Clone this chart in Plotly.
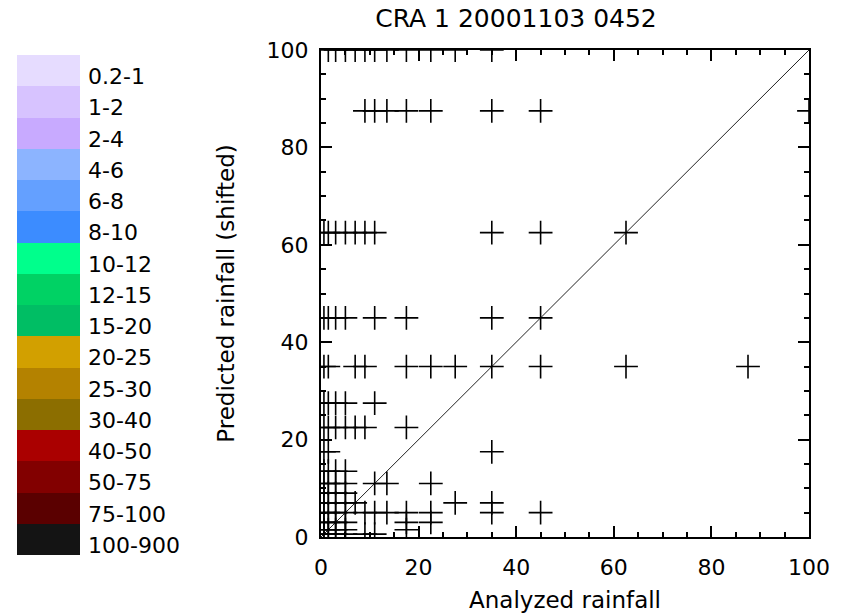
import plotly.graph_objects as go

# ---------------- data ----------------
title_text = "CRA 1 20001103 0452"
x_title = "Analyzed rainfall"
y_title = "Predicted rainfall (shifted)"

# Legend categories (rain-rate classes) and their colours
legend_labels = ["0.2-1", "1-2", "2-4", "4-6", "6-8", "8-10", "10-12", "12-15",
                 "15-20", "20-25", "25-30", "30-40", "40-50", "50-75", "75-100", "100-900"]
legend_colors = ["#E6DCFF", "#D7C3FF", "#C8AAFF", "#8CB4FF", "#64A0FF", "#3C8CFF",
                 "#00FF8C", "#00D264", "#00BE64", "#D2A000", "#B48200", "#8C6E00",
                 "#AA0000", "#820000", "#5A0000", "#141414"]

# Predicted values (rows) and the analyzed values found on each row
pred_levels = [100, 87.5, 62.5, 45, 35, 27.5, 22.5, 17.5, 13.5, 11, 9, 7, 5, 3, 1.5, 0.6]
anal_by_level = [
    [1.5, 3, 5, 7, 9, 11, 13.5, 17.5, 22.5, 27.5, 35],
    [9, 11, 13.5, 17.5, 22.5, 35, 45, 100],
    [0.6, 1.5, 3, 5, 7, 9, 11, 35, 45, 62.5],
    [0.6, 1.5, 3, 5, 11, 17.5, 35, 45],
    [0.6, 1.5, 7, 9, 17.5, 22.5, 27.5, 35, 45, 62.5, 87.5],
    [0.6, 1.5, 3, 5, 11],
    [0.6, 1.5, 3, 5, 7, 9, 17.5],
    [0.6, 1.5, 35],
    [0.6, 1.5, 3, 5],
    [0.6, 1.5, 3, 5, 11, 13.5, 22.5],
    [0.6, 1.5, 3, 5],
    [0.6, 1.5, 3, 5, 7, 27.5, 35],
    [0.6, 1.5, 3, 5, 9, 11, 13.5, 17.5, 22.5, 35, 45],
    [0.6, 1.5, 3, 5, 17.5, 22.5],
    [0.6, 1.5, 3, 5, 17.5],
    [0.6, 1.5, 3, 5, 9, 11],
]
diag = [0, 100]
axis_ticks = [0, 20, 40, 60, 80, 100]

# ---------------- figure ----------------
xs, ys = [], []
for lvl, row in zip(pred_levels, anal_by_level):
    for v in row:
        xs.append(v)
        ys.append(lvl)

W, H = 851, 615
ml, mr, mt, mb = 0, 42, 50, 60
pw, ph = W - ml - mr, H - mt - mb

FONT = "DejaVu Sans ExtraLight, DejaVu Sans"
fig = go.Figure()

fig.add_trace(go.Scatter(x=diag, y=diag, mode="lines",
                         line=dict(color="#222222", width=1),
                         hoverinfo="skip", showlegend=False))
fig.add_trace(go.Scatter(x=xs, y=ys, mode="markers",
                         marker=dict(symbol="cross-thin", size=17,
                                     line=dict(color="black", width=1.6)),
                         showlegend=False))

# colour-key as bars on a secondary axis pair
fig.add_trace(go.Bar(x=[1] * len(legend_labels), y=legend_labels, orientation="h",
                     width=1, marker=dict(color=legend_colors, line=dict(width=0)),
                     xaxis="x2", yaxis="y2", showlegend=False, hoverinfo="skip"))

annotations = []
for lab in legend_labels:
    annotations.append(dict(x=1, y=lab, xref="x2", yref="y2", text=lab,
                            showarrow=False, xanchor="left", yanchor="middle",
                            xshift=6, yshift=-6,
                            font=dict(family=FONT, size=22, color="black")))

axis_common = dict(range=[0, 100], tickvals=axis_ticks, ticks="inside", ticklen=11,
                   tickwidth=1.5, tickcolor="black", showline=True, linewidth=2,
                   linecolor="black", mirror="ticks", showgrid=False, zeroline=False,
                   minor=dict(dtick=5, ticks="inside", ticklen=5, tickwidth=1.5,
                              tickcolor="black", showgrid=False),
                   tickfont=dict(family=FONT, size=22, color="black"))

fig.update_layout(
    width=W, height=H,
    margin=dict(l=ml, r=mr, t=mt, b=mb, autoexpand=False),
    paper_bgcolor="white", plot_bgcolor="white",
    title=dict(text=title_text, x=516 / pw, xref="paper", xanchor="center",
               y=1 - 18 / H, yref="container", yanchor="middle",
               font=dict(family=FONT, size=25, color="black")),
    xaxis=dict(domain=[321 / pw, 1], anchor="y", ticklabelstandoff=10,
               automargin=False,
               title=dict(text=x_title, standoff=12,
                          font=dict(family=FONT, size=23, color="black")),
               **axis_common),
    yaxis=dict(domain=[18 / ph, 1], anchor="x", ticklabelstandoff=6,
               automargin=False,
               title=dict(text=y_title, standoff=26,
                          font=dict(family=FONT, size=23, color="black")),
               **axis_common),
    xaxis2=dict(domain=[17 / pw, 80 / pw], range=[0, 1], visible=False,
                anchor="y2", fixedrange=True, automargin=False),
    yaxis2=dict(domain=[0, 500 / ph], range=[len(legend_labels) - 0.5, -0.5],
                type="category", categoryorder="array", categoryarray=legend_labels,
                visible=False, anchor="x2", fixedrange=True, automargin=False),
    annotations=annotations,
    bargap=0,
)

fig.write_html("out.html")
